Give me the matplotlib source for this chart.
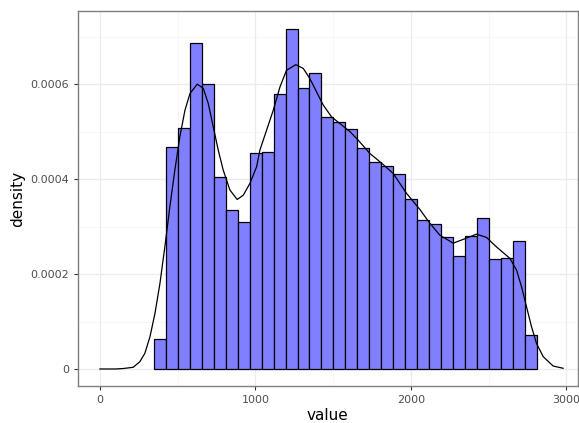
import numpy as np
import matplotlib
matplotlib.use('Agg')
from matplotlib import pyplot as plt

# histogram: 32 bins, left edge ~347, width ~77
bin_start = 347
bin_width = 77
bar_density = [0.0000625, 0.000467, 0.000507, 0.000686, 0.000601, 0.000404, 0.000334, 0.000309,
               0.000455, 0.000458, 0.000579, 0.000717, 0.000591, 0.000624, 0.000531, 0.000521,
               0.000505, 0.000465, 0.000435, 0.000428, 0.000410, 0.000359, 0.000313, 0.000305,
               0.000279, 0.000239, 0.000280, 0.000317, 0.000232, 0.000233, 0.000269, 0.0000709]

# density curve
kde_x = [0, 100, 150, 214, 257, 289, 322, 354, 386, 418, 450, 482, 514, 547, 579, 626,
         665, 697, 729, 761, 793, 836, 883, 922, 965, 1008, 1029, 1072, 1115, 1158, 1200,
         1260, 1308, 1350, 1393, 1436, 1490, 1543, 1608, 1661, 1736, 1810, 1886, 1972,
         2058, 2122, 2186, 2272, 2337, 2422, 2487, 2551, 2637, 2680, 2712, 2744, 2776,
         2808, 2851, 2915, 2979]
kde_y = [0.0, 0.0, 0.000001, 0.0000036, 0.0000154, 0.000033, 0.000068, 0.000117, 0.000180,
         0.000258, 0.000342, 0.000419, 0.000489, 0.000545, 0.000580, 0.000600, 0.000591,
         0.000559, 0.000510, 0.000461, 0.000419, 0.000377, 0.000357, 0.000366, 0.000391,
         0.000426, 0.000461, 0.000503, 0.000545, 0.000594, 0.000629, 0.000641, 0.000633,
         0.000612, 0.000584, 0.000556, 0.000531, 0.000517, 0.000500, 0.000482, 0.000454,
         0.000434, 0.000412, 0.000370, 0.000336, 0.000307, 0.000282, 0.000265, 0.000273,
         0.000284, 0.000277, 0.000257, 0.000233, 0.000208, 0.000173, 0.000131, 0.000089,
         0.000054, 0.000026, 0.0000063, 0.0000015]

x_ticks = [0, 1000, 2000, 3000]
y_ticks = [0, 0.0002, 0.0004, 0.0006]
y_tick_labels = ['0', '0.0002', '0.0004', '0.0006']

fig = plt.figure(figsize=(5.79, 4.23), dpi=100)
ax = fig.add_axes([0.1347, 0.0875, 0.8633, 0.8865])

lefts = bin_start + bin_width * np.arange(len(bar_density))
ax.bar(lefts, bar_density, width=bin_width, align='edge',
       color='#7f7fff', edgecolor='black', linewidth=0.9, zorder=2)
ax.plot(kde_x, kde_y, color='black', linewidth=0.9, zorder=3)

ax.set_xlim(-141, 3074)
ax.set_ylim(-0.0000358, 0.000754)

ax.set_xticks(x_ticks)
ax.set_yticks(y_ticks)
ax.set_yticklabels(y_tick_labels)
ax.set_xticks([500, 1500, 2500], minor=True)
ax.set_yticks([0.0001, 0.0003, 0.0005, 0.0007], minor=True)

ax.grid(which='major', color='#ebebeb', linewidth=0.9, zorder=0)
ax.grid(which='minor', color='#f3f3f3', linewidth=0.5, zorder=0)
ax.set_axisbelow(True)
for s in ax.spines.values():
    s.set_color('#7f7f7f')
    s.set_linewidth(1.0)
ax.tick_params(which='major', color='#333333', length=3, width=0.8,
               labelsize=8, labelcolor='#4d4d4d')
ax.tick_params(which='minor', length=0)

ax.set_xlabel('value', fontsize=11, labelpad=2)
ax.set_ylabel('density', fontsize=11)

plt.savefig('out.png', dpi=100)
